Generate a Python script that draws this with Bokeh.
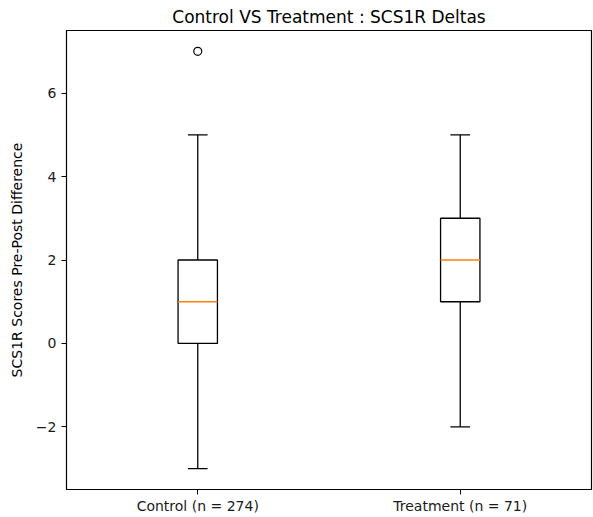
from bokeh.plotting import figure
from bokeh.models import FactorRange, Range1d, FixedTicker, ColumnDataSource
from bokeh.transform import dodge
from bokeh.embed import file_html
from bokeh.resources import INLINE

# ---- data ----
groups = ["Control (n = 274)", "Treatment (n = 71)"]
lower_whisker = [-3, -2]
q1 = [0, 1]
median = [1, 2]
q3 = [2, 3]
upper_whisker = [5, 5]
outlier_group = ["Control (n = 274)"]
outlier_value = [7]

y_ticks = [-2, 0, 2, 4, 6]
y_tick_labels = ["\u22122", "0", "2", "4", "6"]

title_text = "Control VS Treatment : SCS1R Deltas"
y_label = "SCS1R Scores Pre-Post Difference"

FONT = "DejaVu Sans"
BOX_W = 0.15

src = ColumnDataSource(dict(g=groups, lw=lower_whisker, q1=q1, med=median,
                            q3=q3, uw=upper_whisker))
out_src = ColumnDataSource(dict(g=outlier_group, v=outlier_value))

p = figure(width=593, height=517,
           x_range=FactorRange(factors=groups, range_padding=0),
           y_range=Range1d(-3.5, 7.5),
           output_backend="svg", toolbar_location=None,
           title=title_text,
           min_border_left=66, min_border_right=2,
           min_border_top=30, min_border_bottom=28)

# whiskers
p.segment(x0="g", y0="q1", x1="g", y1="lw", source=src, line_color="black", line_width=1.3)
p.segment(x0="g", y0="q3", x1="g", y1="uw", source=src, line_color="black", line_width=1.3)
# caps
p.segment(x0=dodge("g", -BOX_W / 4, range=p.x_range), y0="lw",
          x1=dodge("g", BOX_W / 4, range=p.x_range), y1="lw",
          source=src, line_color="black", line_width=1.3)
p.segment(x0=dodge("g", -BOX_W / 4, range=p.x_range), y0="uw",
          x1=dodge("g", BOX_W / 4, range=p.x_range), y1="uw",
          source=src, line_color="black", line_width=1.3)
# boxes
p.vbar(x="g", width=BOX_W, bottom="q1", top="q3", source=src,
       fill_color="white", line_color="black", line_width=1.3)
# medians
p.segment(x0=dodge("g", -BOX_W / 2, range=p.x_range), y0="med",
          x1=dodge("g", BOX_W / 2, range=p.x_range), y1="med",
          source=src, line_color="#ff7f0e", line_width=1.3)
# outliers
p.scatter(x="g", y="v", source=out_src, marker="circle", size=8,
          fill_color=None, line_color="black", line_width=1.2)

# styling
p.xgrid.grid_line_color = None
p.ygrid.grid_line_color = None
p.outline_line_color = "black"
p.outline_line_alpha = 1
p.outline_line_width = 1.2

p.title.align = "center"
p.title.text_font = FONT
p.title.text_font_style = "normal"
p.title.text_font_size = "17px"
p.title.text_color = "black"
p.title.standoff = 7

p.yaxis.ticker = FixedTicker(ticks=y_ticks)
p.yaxis.major_label_overrides = {t: l for t, l in zip(y_ticks, y_tick_labels)}
p.yaxis.axis_label = y_label

for ax in (p.xaxis[0], p.yaxis[0]):
    ax.axis_line_color = "black"
    ax.major_tick_line_color = "black"
    ax.minor_tick_line_color = None
    ax.major_tick_out = 5
    ax.major_tick_in = 0
    ax.major_label_text_font = FONT
    ax.major_label_text_font_size = "14px"
    ax.major_label_text_color = "#1a1a1a"
    ax.axis_label_text_font = FONT
    ax.axis_label_text_font_size = "14px"
    ax.axis_label_text_font_style = "normal"
    ax.axis_label_text_color = "black"

p.xaxis.major_label_standoff = 3
p.yaxis.major_label_standoff = 5
p.yaxis.axis_label_standoff = 8

open("out.html", "w").write(file_html(p, INLINE))
